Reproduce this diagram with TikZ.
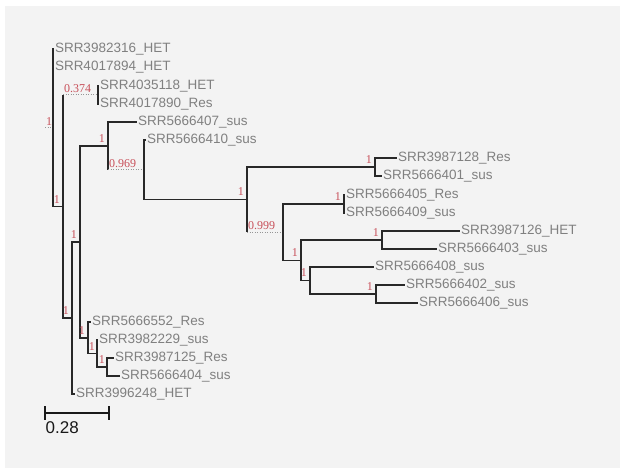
\documentclass[tikz,border=0pt]{standalone}
\usepackage{fontspec}
\setmainfont{Liberation Sans}
\newfontfamily\bootfont{Liberation Serif}
\definecolor{bgc}{RGB}{243,243,243}
\definecolor{leafc}{RGB}{128,128,128}
\definecolor{bootc}{RGB}{200,80,90}
\definecolor{linec}{RGB}{40,40,40}
\definecolor{dotc}{RGB}{150,150,150}
\begin{document}
\begin{tikzpicture}[x=1pt,y=-1pt,
  leaf/.style={anchor=west,inner sep=0.8pt,text=leafc,font=\fontsize{13.5}{14}\selectfont},
  boot/.style={inner sep=0pt,text=bootc,font=\bootfont\fontsize{12}{12}\selectfont},
  bootS/.style={boot,anchor=south east},
  bootD/.style={boot,anchor=south west},
  br/.style={draw=linec,line width=1.4pt},
  dbr/.style={draw=dotc,line width=1pt,dash pattern=on 1pt off 1.5pt},
  sbar/.style={draw=black!90,line width=1.4pt}]
\useasboundingbox (0,0) rectangle (620,468);
\fill[white] (0,0) rectangle (620,468);
\fill[bgc] (5,6) rectangle (620,468);

% internal nodes
\coordinate (R0) at (45,127.7);
\coordinate (Nr) at (53,127.7);
\coordinate (Na) at (63,206.5);
\coordinate (Nb) at (98,95);
\coordinate (Nc) at (72,318);
\coordinate (Nd) at (80,242);
\coordinate (Ne) at (108,146);
\coordinate (Nf) at (144,169.8);
\coordinate (Ng) at (247,199.5);
\coordinate (Nh) at (375,167);
\coordinate (Ni) at (283,232);
\coordinate (Nj) at (344,204);
\coordinate (Nk) at (301,260.2);
\coordinate (Nl) at (382,240);
\coordinate (Nm) at (310,280.5);
\coordinate (Nn) at (376,294);
\coordinate (No) at (88,337.8);
\coordinate (Np) at (97,353.5);
\coordinate (Nq) at (107,367);

% leaves
\node[leaf] (L1) at (54,49) {SRR3982316\_HET};
\node[leaf] (L2) at (54,67) {SRR4017894\_HET};
\node[leaf] (L3) at (99,86) {SRR4035118\_HET};
\node[leaf] (L4) at (99,104) {SRR4017890\_Res};
\node[leaf] (L5) at (137,122) {SRR5666407\_sus};
\node[leaf] (L6) at (146,140) {SRR5666410\_sus};
\node[leaf] (L7) at (397,158) {SRR3987128\_Res};
\node[leaf] (L8) at (382,176) {SRR5666401\_sus};
\node[leaf] (L9) at (345,195) {SRR5666405\_Res};
\node[leaf] (L10) at (345,213) {SRR5666409\_sus};
\node[leaf] (L11) at (460,231) {SRR3987126\_HET};
\node[leaf] (L12) at (437,249) {SRR5666403\_sus};
\node[leaf] (L13) at (374,267) {SRR5666408\_sus};
\node[leaf] (L14) at (405,285) {SRR5666402\_sus};
\node[leaf] (L15) at (418,303) {SRR5666406\_sus};
\node[leaf] (L16) at (91,322) {SRR5666552\_Res};
\node[leaf] (L17) at (98,340) {SRR3982229\_sus};
\node[leaf] (L18) at (114,358) {SRR3987125\_Res};
\node[leaf] (L19) at (120,376) {SRR5666404\_sus};
\node[leaf] (L20) at (75,394) {SRR3996248\_HET};

% branches
\draw[dbr] (R0) -- (Nr);
\draw[br] (Nr) |- (L1.west);
\draw[br] (Nr) |- (L2.west);
\draw[br] (Nr) |- (Na);
\draw[br] (Na) -- (Na |- Nb);
\draw[dbr] (Na |- Nb) -- (Nb);
\draw[br] (Na) |- (Nc);
\draw[br] (Nb) |- (L3.west);
\draw[br] (Nb) |- (L4.west);
\draw[br] (Nc) |- (Nd);
\draw[br] (Nc) |- (L20.west);
\draw[br] (Nd) |- (Ne);
\draw[br] (Nd) |- (No);
\draw[br] (Ne) |- (L5.west);
\draw[br] (Ne) -- (Ne |- Nf);
\draw[dbr] (Ne |- Nf) -- (Nf);
\draw[br] (Nf) |- (L6.west);
\draw[br] (Nf) |- (Ng);
\draw[br] (Ng) |- (Nh);
\draw[br] (Ng) -- (Ng |- Ni);
\draw[dbr] (Ng |- Ni) -- (Ni);
\draw[br] (Nh) |- (L7.west);
\draw[br] (Nh) |- (L8.west);
\draw[br] (Ni) |- (Nj);
\draw[br] (Ni) |- (Nk);
\draw[br] (Nj) |- (L9.west);
\draw[br] (Nj) |- (L10.west);
\draw[br] (Nk) |- (Nl);
\draw[br] (Nk) |- (Nm);
\draw[br] (Nl) |- (L11.west);
\draw[br] (Nl) |- (L12.west);
\draw[br] (Nm) |- (L13.west);
\draw[br] (Nm) |- (Nn);
\draw[br] (Nn) |- (L14.west);
\draw[br] (Nn) |- (L15.west);
\draw[br] (No) |- (L16.west);
\draw[br] (No) |- (Np);
\draw[br] (Np) |- (L17.west);
\draw[br] (Np) |- (Nq);
\draw[br] (Nq) |- (L18.west);
\draw[br] (Nq) |- (L19.west);

% support values
\node[bootD] (bR) at ([shift={(1pt,2pt)}]R0) {1};
\node[bootS] (ba) at ([shift={(-3pt,3pt)}]Na) {1};
\node[bootD] (bb) at ([shift={(1pt,2pt)}]Na |- Nb) {0.374};
\node[bootS] (bc) at ([shift={(-3pt,3pt)}]Nc) {1};
\node[bootS] (bd) at ([shift={(-3pt,3.5pt)}]Nd) {1};
\node[bootS] (be) at ([shift={(-3pt,3.5pt)}]Ne) {1};
\node[bootD] (bf) at ([shift={(1pt,2pt)}]Ne |- Nf) {0.969};
\node[bootS] (bg) at ([shift={(-3pt,3.5pt)}]Ng) {1};
\node[bootS] (bh) at ([shift={(-3pt,3.5pt)}]Nh) {1};
\node[bootD] (bi) at ([shift={(1pt,2pt)}]Ng |- Ni) {0.999};
\node[bootS] (bj) at ([shift={(-3pt,3.5pt)}]Nj) {1};
\node[bootS] (bk) at ([shift={(-3pt,3.5pt)}]Nk) {1};
\node[bootS] (bl) at ([shift={(-3pt,3.5pt)}]Nl) {1};
\node[bootS] (bm) at ([shift={(-3pt,3.5pt)}]Nm) {1};
\node[bootS] (bn) at ([shift={(-3pt,3.5pt)}]Nn) {1};
\node[bootS] (bo) at ([shift={(-3pt,3.5pt)}]No) {1};
\node[bootS] (bp) at ([shift={(-2pt,3pt)}]Np) {1};
\node[bootS] (bq) at ([shift={(-2pt,3pt)}]Nq) {1};

% scale bar
\coordinate (S1) at (45,413);
\coordinate (S2) at (109,413);
\coordinate (S1t) at (45,406);
\coordinate (S1b) at (45,420);
\coordinate (S2t) at (109,406);
\coordinate (S2b) at (109,420);
\draw[sbar] (S1) -- (S2);
\draw[sbar] (S1t) -- (S1b);
\draw[sbar] (S2t) -- (S2b);
\node[anchor=north west,inner sep=0pt,text=black!90,font=\fontsize{17}{17}\selectfont] (slab) at (45.5,421) {0.28};
\end{tikzpicture}
\end{document}
